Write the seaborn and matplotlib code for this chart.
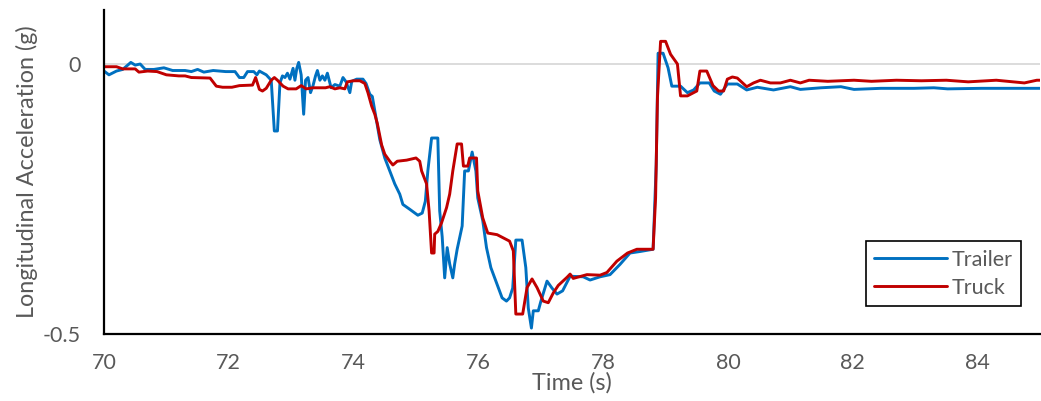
import numpy as np
import pandas as pd
import matplotlib
matplotlib.use("Agg")
import matplotlib.pyplot as plt
import seaborn as sns

# ---------------- data ----------------
trailer_t = [70.00, 70.08, 70.20, 70.30, 70.43, 70.50, 70.58, 70.66, 70.80, 70.96,
             71.10, 71.30, 71.40, 71.50, 71.60, 71.75, 71.95, 72.10, 72.17, 72.24,
             72.30, 72.40, 72.45, 72.49, 72.60, 72.68, 72.73, 72.78, 72.82, 72.86,
             72.90, 72.94, 72.98, 73.03, 73.06, 73.09, 73.12, 73.16, 73.20, 73.23,
             73.27, 73.31, 73.35, 73.39, 73.42, 73.46, 73.50, 73.54, 73.58, 73.64,
             73.70, 73.78, 73.83, 73.88, 73.94, 73.97, 74.05, 74.15, 74.20, 74.26,
             74.30, 74.34, 74.42, 74.50, 74.58, 74.66, 74.74, 74.79, 74.90, 75.03,
             75.10, 75.15, 75.19, 75.25, 75.35, 75.38, 75.42, 75.46, 75.50, 75.54,
             75.59, 75.62, 75.66, 75.74, 75.78, 75.84, 75.90, 75.96, 75.99, 76.07,
             76.13, 76.20, 76.30, 76.38, 76.45, 76.50, 76.55, 76.60, 76.70, 76.76,
             76.80, 76.85, 76.88, 76.96, 77.00, 77.10, 77.18, 77.26, 77.35, 77.47,
             77.68, 77.79, 77.95, 78.11, 78.27, 78.43, 78.60, 78.80, 78.85, 78.88,
             78.96, 79.04, 79.10, 79.24, 79.35, 79.45, 79.55, 79.70, 79.78, 79.88,
             79.99, 80.15, 80.30, 80.47, 80.73, 81.00, 81.16, 81.49, 81.81, 82.02,
             82.45, 82.98, 83.30, 83.52, 84.06, 84.59, 85.00]
trailer_g = [-0.013, -0.020, -0.013, -0.010, 0.003, -0.002, 0.000, -0.010, -0.010, -0.007,
             -0.012, -0.012, -0.014, -0.010, -0.015, -0.012, -0.014, -0.014, -0.025, -0.025,
             -0.014, -0.014, -0.020, -0.013, -0.020, -0.030, -0.124, -0.124, -0.035, -0.022,
             -0.025, -0.017, -0.028, -0.008, -0.030, -0.008, 0.003, -0.020, -0.093, -0.030,
             -0.025, -0.053, -0.040, -0.022, -0.012, -0.030, -0.022, -0.030, -0.017, -0.044,
             -0.038, -0.041, -0.025, -0.033, -0.053, -0.032, -0.028, -0.028, -0.036, -0.056,
             -0.060, -0.087, -0.140, -0.174, -0.198, -0.222, -0.241, -0.260, -0.269, -0.280,
             -0.276, -0.254, -0.198, -0.137, -0.137, -0.272, -0.320, -0.396, -0.340, -0.370,
             -0.396, -0.370, -0.343, -0.300, -0.198, -0.198, -0.163, -0.198, -0.248, -0.290,
             -0.340, -0.377, -0.408, -0.433, -0.439, -0.433, -0.415, -0.326, -0.326, -0.377,
             -0.452, -0.489, -0.457, -0.457, -0.440, -0.402, -0.415, -0.426, -0.420, -0.393,
             -0.394, -0.400, -0.394, -0.390, -0.371, -0.350, -0.347, -0.343, -0.186, 0.020,
             0.020, -0.007, -0.041, -0.041, -0.053, -0.048, -0.035, -0.035, -0.050, -0.056,
             -0.037, -0.037, -0.048, -0.043, -0.048, -0.042, -0.047, -0.044, -0.042, -0.047,
             -0.045, -0.045, -0.044, -0.046, -0.045, -0.045, -0.045]

truck_t = [70.00, 70.20, 70.30, 70.50, 70.56, 70.70, 70.85, 71.00, 71.20, 71.30,
           71.40, 71.70, 71.80, 71.90, 72.05, 72.17, 72.38, 72.43, 72.49, 72.54,
           72.60, 72.68, 72.73, 72.78, 72.87, 72.95, 73.08, 73.16, 73.24, 73.35,
           73.55, 73.62, 73.70, 73.78, 73.86, 73.90, 74.00, 74.10, 74.18, 74.23,
           74.29, 74.34, 74.38, 74.45, 74.50, 74.58, 74.63, 74.70, 74.85, 75.00,
           75.06, 75.09, 75.17, 75.21, 75.25, 75.29, 75.30, 75.35, 75.41, 75.49,
           75.54, 75.59, 75.66, 75.73, 75.76, 75.83, 75.86, 75.97, 75.99, 76.07,
           76.15, 76.30, 76.40, 76.50, 76.56, 76.60, 76.71, 76.78, 76.86, 76.94,
           77.04, 77.12, 77.20, 77.28, 77.42, 77.47, 77.52, 77.74, 77.95, 78.06,
           78.22, 78.39, 78.54, 78.80, 78.84, 78.87, 78.92, 79.00, 79.08, 79.19,
           79.24, 79.35, 79.50, 79.55, 79.66, 79.76, 79.85, 79.93, 79.99, 80.07,
           80.15, 80.30, 80.41, 80.52, 80.68, 80.84, 81.00, 81.16, 81.30, 81.60,
           82.02, 82.30, 82.70, 83.10, 83.50, 83.85, 84.30, 84.75, 84.95, 85.00]
truck_g = [-0.005, -0.005, -0.009, -0.009, -0.015, -0.013, -0.014, -0.020, -0.022, -0.022,
           -0.025, -0.026, -0.041, -0.043, -0.043, -0.040, -0.039, -0.025, -0.047, -0.050,
           -0.045, -0.030, -0.025, -0.030, -0.041, -0.046, -0.046, -0.040, -0.046, -0.044,
           -0.044, -0.042, -0.046, -0.044, -0.046, -0.033, -0.031, -0.031, -0.036, -0.053,
           -0.078, -0.093, -0.110, -0.150, -0.167, -0.180, -0.187, -0.180, -0.178, -0.174,
           -0.180, -0.198, -0.222, -0.272, -0.350, -0.350, -0.315, -0.310, -0.294, -0.266,
           -0.241, -0.198, -0.148, -0.148, -0.189, -0.189, -0.174, -0.174, -0.235, -0.285,
           -0.313, -0.316, -0.322, -0.328, -0.346, -0.463, -0.463, -0.414, -0.398, -0.414,
           -0.439, -0.442, -0.424, -0.410, -0.395, -0.389, -0.397, -0.390, -0.391, -0.386,
           -0.365, -0.350, -0.343, -0.343, -0.248, -0.062, 0.042, 0.042, 0.018, 0.000,
           -0.059, -0.059, -0.050, -0.013, -0.013, -0.040, -0.050, -0.050, -0.028, -0.024,
           -0.026, -0.042, -0.035, -0.030, -0.035, -0.035, -0.030, -0.035, -0.030, -0.032,
           -0.030, -0.032, -0.030, -0.031, -0.030, -0.033, -0.030, -0.035, -0.030, -0.030]

series_names = ["Trailer", "Truck"]
series_colors = ["#0070C0", "#C00000"]
x_ticks = [70, 72, 74, 76, 78, 80, 82, 84]
y_ticks = [-0.5, 0]
y_tick_labels = ["-0.5", "0"]

# ---------------- build long-form table ----------------
df = pd.concat([
    pd.DataFrame({"Time": trailer_t, "Acc": trailer_g, "Series": series_names[0]}),
    pd.DataFrame({"Time": truck_t, "Acc": truck_g, "Series": series_names[1]}),
], ignore_index=True)

sns.set_theme(style="white")
plt.rcParams["font.family"] = ["Lato", "DejaVu Sans"]
text_color = "#595959"
fs = 15.5

fig = plt.figure(figsize=(10.41, 4.01), dpi=100)
ax = fig.add_axes([0.0999, 0.167, 0.8991, 0.808])

sns.lineplot(data=df, x="Time", y="Acc", hue="Series", hue_order=series_names,
             palette=dict(zip(series_names, series_colors)), estimator=None,
             sort=False, linewidth=2.1, ax=ax, legend=True)

ax.set_xlim(70, 85)
ax.set_ylim(-0.5, 0.1)
ax.set_xticks(x_ticks)
ax.set_xticklabels([str(v) for v in x_ticks])
ax.set_yticks(y_ticks)
ax.set_yticklabels(y_tick_labels)
ax.tick_params(axis="both", length=0, labelsize=fs, colors=text_color)
ax.tick_params(axis="y", pad=17)
ax.tick_params(axis="x", pad=14)

ax.axhline(0, color="#D9D9D9", linewidth=1.3, zorder=0)

for s in ["top", "right"]:
    ax.spines[s].set_visible(False)
for s in ["left", "bottom"]:
    ax.spines[s].set_color("black")
    ax.spines[s].set_linewidth(1.6)

ax.set_xlabel("Time (s)", fontsize=16.8, color=text_color, labelpad=-1)
ax.set_ylabel("Longitudinal Acceleration (g)", fontsize=16.8, color=text_color, labelpad=3)

handles, labels = ax.get_legend_handles_labels()
leg = ax.legend(handles, labels, loc="lower right", bbox_to_anchor=(0.98, 0.086),
                frameon=True, fancybox=False, framealpha=1, edgecolor="black",
                fontsize=fs, handlelength=3.4, handletextpad=0.2,
                borderpad=0.4, labelspacing=0.35, borderaxespad=0)
leg.get_frame().set_linewidth(1.2)
for t in leg.get_texts():
    t.set_color(text_color)

fig.savefig("out.png", dpi=100)
